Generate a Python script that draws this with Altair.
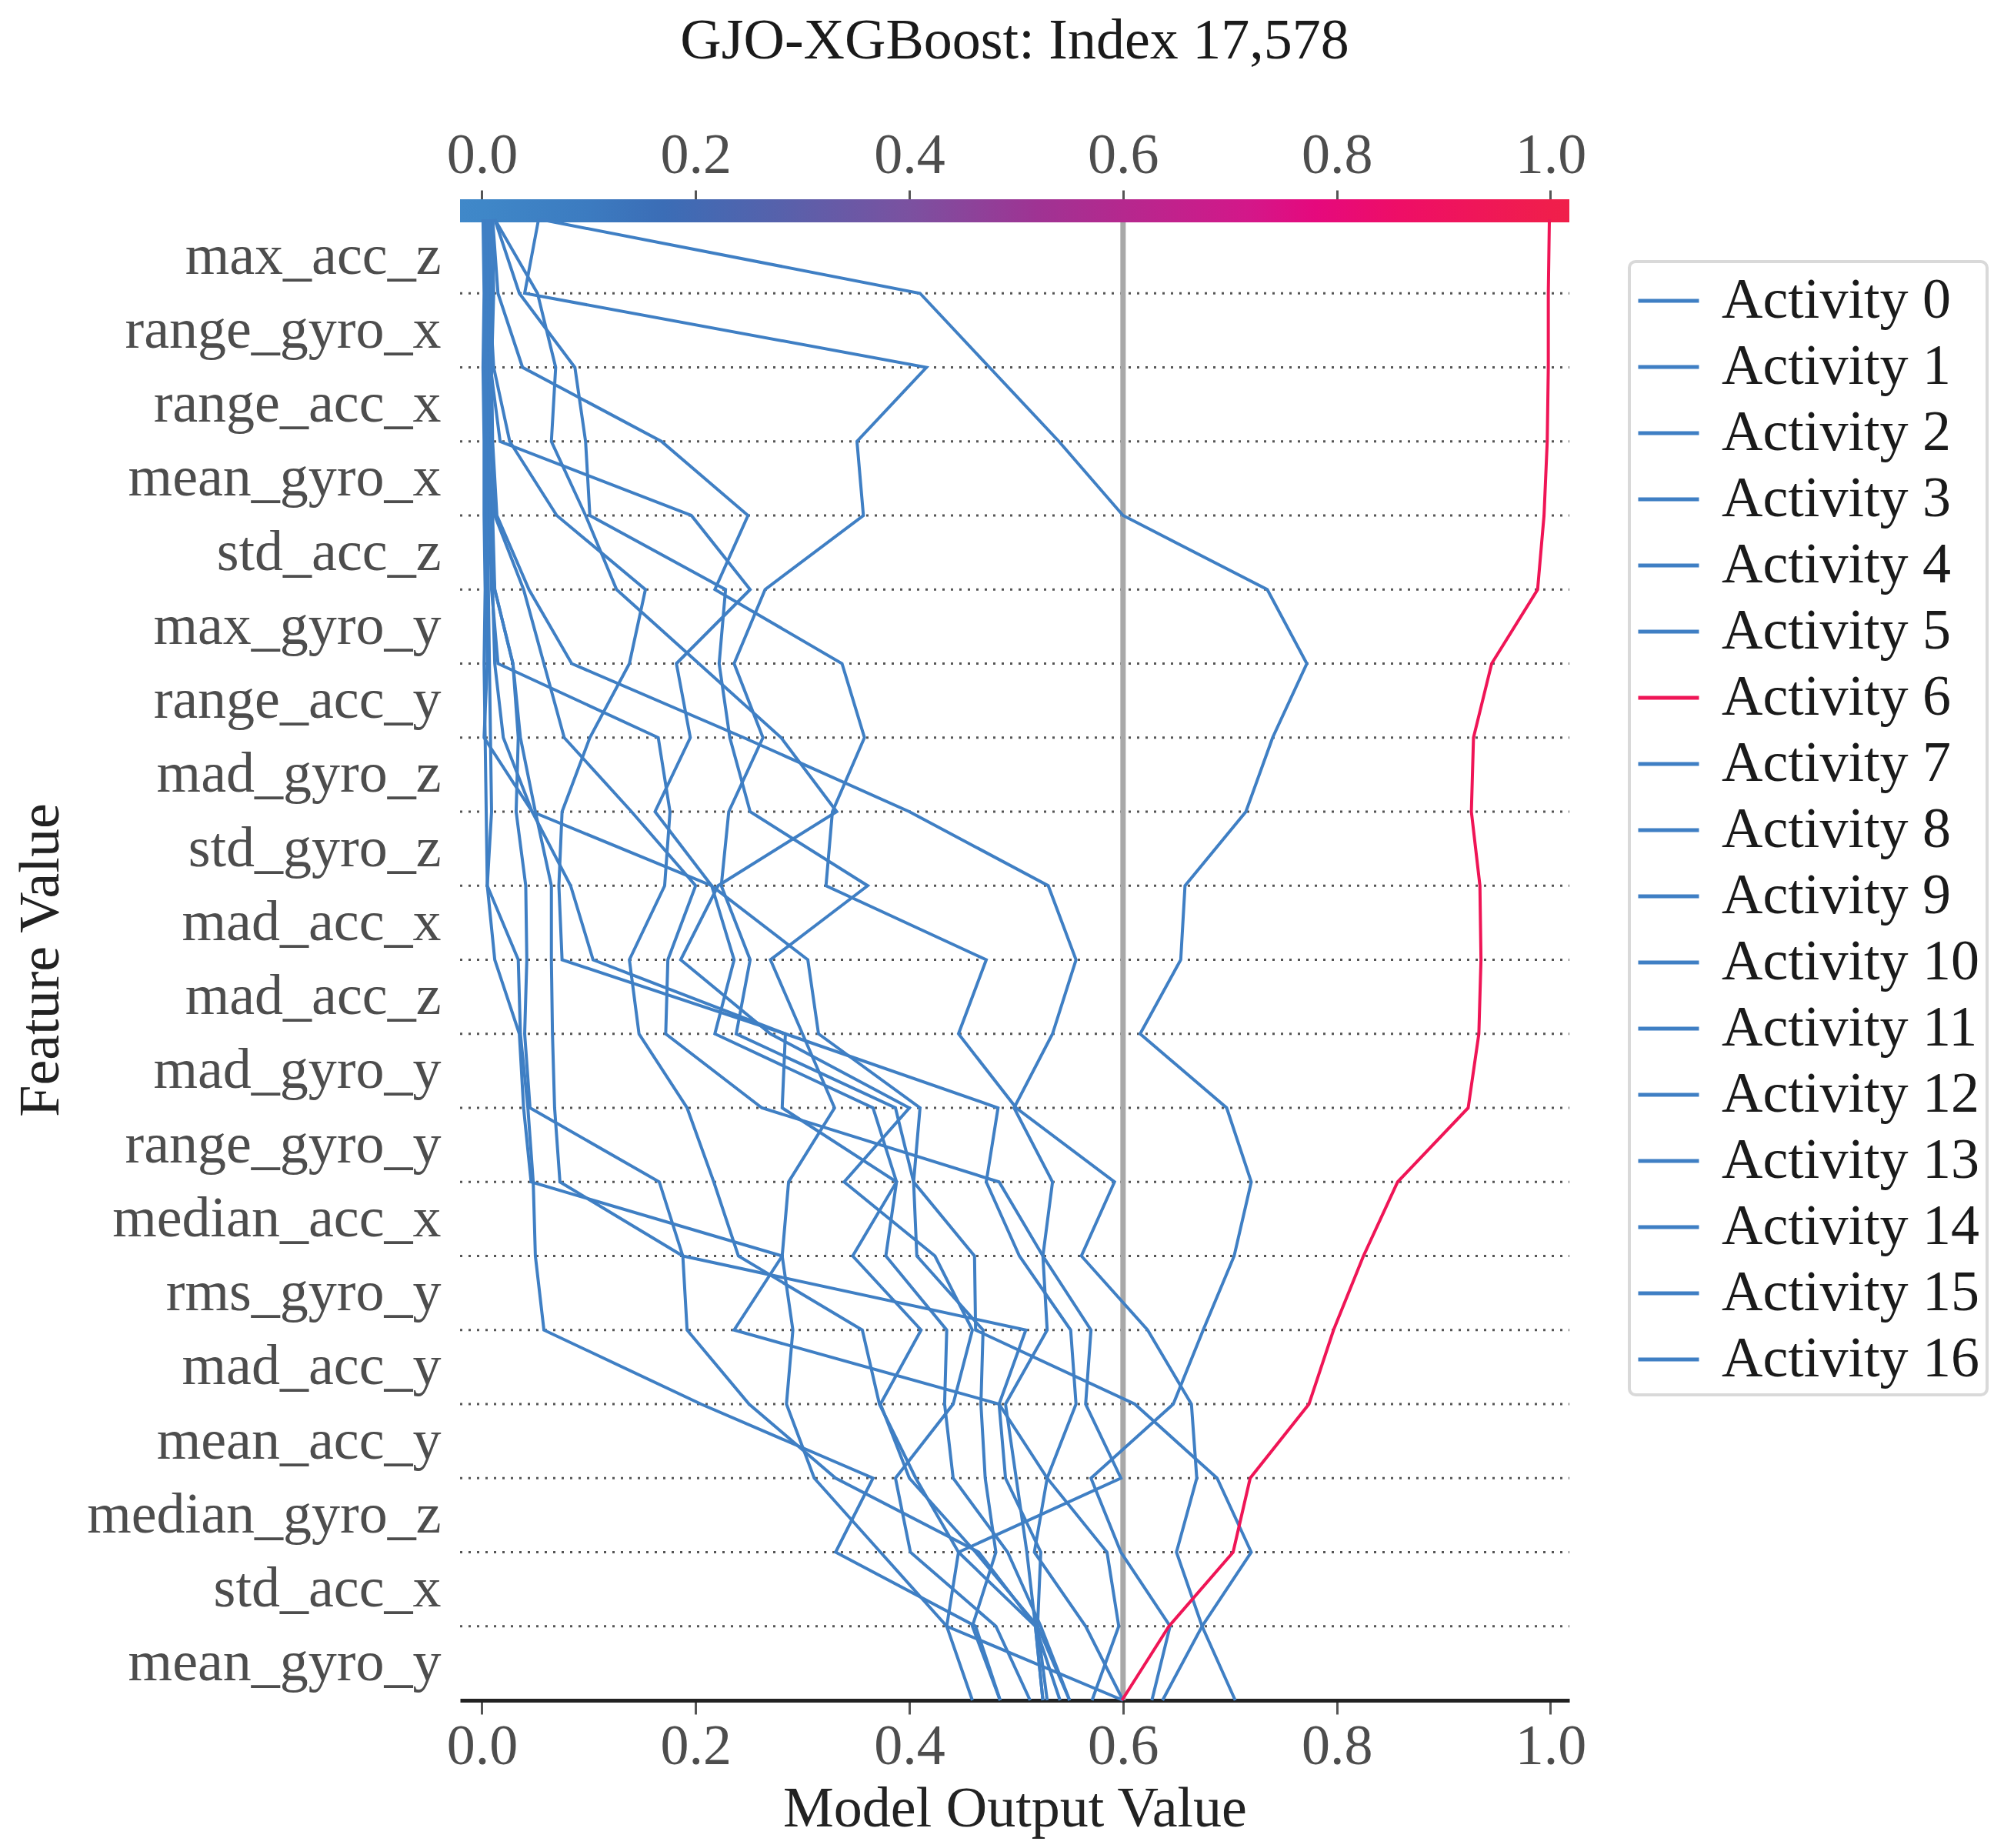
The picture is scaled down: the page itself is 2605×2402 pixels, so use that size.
import altair as alt
import pandas as pd

# ---------------- data ----------------
# features listed from top row to bottom row
features_top_to_bottom = [
    "max_acc_z", "range_gyro_x", "range_acc_x", "mean_gyro_x", "std_acc_z",
    "max_gyro_y", "range_acc_y", "mad_gyro_z", "std_gyro_z", "mad_acc_x",
    "mad_acc_z", "mad_gyro_y", "range_gyro_y", "median_acc_x", "rms_gyro_y",
    "mad_acc_y", "mean_acc_y", "median_gyro_z", "std_acc_x", "mean_gyro_y",
]
features_bottom_up = list(reversed(features_top_to_bottom))

activities = [f"Activity {i}" for i in range(17)]

# cumulative model output, from the bottom boundary (base) up to the top (final output)
act_0 = [0.627, 0.644, 0.598, 0.570, 0.647, 0.675, 0.704, 0.720, 0.697, 0.616, 0.654,
         0.658, 0.715, 0.740, 0.772, 0.735, 0.600, 0.540, 0.475, 0.410, 0.054]
act_1 = [0.637, 0.674, 0.720, 0.688, 0.611, 0.462, 0.461, 0.404, 0.387, 0.238, 0.251,
         0.224, 0.231, 0.263, 0.236, 0.265, 0.357, 0.351, 0.416, 0.040, 0.053]
act_2 = [0.529, 0.520, 0.523, 0.490, 0.484, 0.236, 0.281, 0.287, 0.330, 0.300, 0.270,
         0.361, 0.251, 0.232, 0.222, 0.228, 0.101, 0.097, 0.087, 0.035, 0.012]
act_3 = [0.513, 0.481, 0.401, 0.387, 0.441, 0.459, 0.424, 0.339, 0.400, 0.270, 0.186,
         0.221, 0.332, 0.280, 0.203, 0.126, 0.097, 0.065, 0.069, 0.052, 0.012]
act_4 = [0.705, 0.674, 0.650, 0.669, 0.664, 0.623, 0.561, 0.592, 0.500, 0.446, 0.472,
         0.322, 0.328, 0.358, 0.337, 0.218, 0.249, 0.168, 0.038, 0.015, 0.010]
act_5 = [0.485, 0.459, 0.481, 0.471, 0.467, 0.469, 0.407, 0.404, 0.410, 0.315, 0.305,
         0.215, 0.162, 0.195, 0.182, 0.251, 0.196, 0.017, 0.008, 0.006, 0.004]
act_6 = [0.599, 0.643, 0.703, 0.719, 0.774, 0.797, 0.825, 0.857, 0.923, 0.933, 0.935,
         0.934, 0.926, 0.928, 0.945, 0.988, 0.994, 0.997, 0.998, 0.998, 0.999]
act_7 = [0.571, 0.596, 0.585, 0.529, 0.556, 0.551, 0.503, 0.472, 0.483, 0.284, 0.075,
         0.072, 0.075, 0.101, 0.138, 0.153, 0.070, 0.026, 0.011, 0.007, 0.006]
act_8 = [0.525, 0.518, 0.510, 0.500, 0.490, 0.529, 0.525, 0.484, 0.262, 0.172, 0.174,
         0.200, 0.140, 0.077, 0.058, 0.039, 0.012, 0.008, 0.006, 0.008, 0.006]
act_9 = [0.600, 0.435, 0.446, 0.598, 0.565, 0.570, 0.525, 0.534, 0.498, 0.534, 0.556,
         0.530, 0.400, 0.245, 0.084, 0.044, 0.014, 0.010, 0.009, 0.011, 0.010]
act_10 = [0.600, 0.565, 0.517, 0.529, 0.484, 0.509, 0.188, 0.166, 0.045, 0.040, 0.042,
          0.041, 0.032, 0.034, 0.029, 0.012, 0.006, 0.005, 0.003, 0.004, 0.003]
act_11 = [0.541, 0.518, 0.446, 0.406, 0.372, 0.356, 0.240, 0.217, 0.192, 0.147, 0.138,
          0.171, 0.176, 0.165, 0.015, 0.009, 0.007, 0.006, 0.005, 0.006, 0.008]
act_12 = [0.550, 0.520, 0.462, 0.400, 0.373, 0.411, 0.347, 0.388, 0.281, 0.284, 0.104,
          0.083, 0.047, 0.002, 0.005, 0.004, 0.003, 0.003, 0.002, 0.003, 0.002]
act_13 = [0.459, 0.435, 0.373, 0.311, 0.285, 0.291, 0.281, 0.046, 0.039, 0.035, 0.012,
          0.005, 0.004, 0.003, 0.002, 0.003, 0.002, 0.002, 0.001, 0.002, 0.001]
act_14 = [0.485, 0.462, 0.331, 0.366, 0.205, 0.058, 0.050, 0.048, 0.043, 0.036, 0.034,
          0.005, 0.009, 0.008, 0.007, 0.006, 0.005, 0.004, 0.004, 0.005, 0.004]
act_15 = [0.550, 0.523, 0.492, 0.441, 0.433, 0.435, 0.378, 0.388, 0.366, 0.218, 0.236,
          0.215, 0.047, 0.020, 0.012, 0.010, 0.008, 0.006, 0.007, 0.006, 0.005]
act_16 = [0.525, 0.518, 0.465, 0.331, 0.250, 0.192, 0.188, 0.073, 0.068, 0.066, 0.065,
          0.065, 0.050, 0.036, 0.029, 0.012, 0.010, 0.009, 0.008, 0.009, 0.007]

series = [act_0, act_1, act_2, act_3, act_4, act_5, act_6, act_7, act_8, act_9,
          act_10, act_11, act_12, act_13, act_14, act_15, act_16]

base_value = [0.6]
x_ticks = [0.0, 0.2, 0.4, 0.6, 0.8, 1.0]
x_domain = [-0.0205, 1.0177]

# colour bar stops (value -> colour)
cbar_values = [-0.0205, 0.0, 0.1, 0.17, 0.28, 0.4, 0.52, 0.6, 0.72, 0.78, 0.86, 1.0, 1.0177]
cbar_colors = ["#4088c9", "#3f87c8", "#3c7bc0", "#3b6db6", "#5761ab", "#7b51a0", "#9f3393",
               "#b5288e", "#d41789", "#e5097d", "#ee0e66", "#f01e4c", "#f01f4a"]

# ---------------- frames ----------------
rows = []
for name, vals in zip(activities, series):
    for k, v in enumerate(vals):
        rows.append({"activity": name, "step": k, "value": v})
df = pd.DataFrame(rows)
df_blue = df[df["activity"] != "Activity 6"]
df_red = df[df["activity"] == "Activity 6"]

df_grid = pd.DataFrame({"step": list(range(1, len(features_bottom_up)))})
df_base = pd.DataFrame({"value": base_value})
df_cbar = pd.DataFrame({"x0": [x_domain[0]], "x1": [x_domain[1]]})

W, H = 1442, 1925
FONT = "Liberation Serif"
FS = 74
BLUE = "#3f7fc4"
RED = "#ef1556"

colors = [RED if a == "Activity 6" else BLUE for a in activities]
color_scale = alt.Scale(domain=activities, range=colors)

xscale = alt.Scale(domain=x_domain, nice=False, zero=False)
yscale = alt.Scale(domain=[0, len(features_bottom_up)], nice=False, zero=False)

label_array = "[" + ",".join("'" + f + "'" for f in features_bottom_up) + "]"

y_axis = alt.Axis(
    values=[k + 0.5 for k in range(len(features_bottom_up))],
    labelExpr=label_array + "[floor(datum.value)]",
    title="Feature Value", ticks=False, domain=False, grid=False,
    labelFontSize=FS, labelFont=FONT, labelColor="#4d4d4d", labelPadding=25,
    labelOverlap=False, labelLimit=0,
    titleFontSize=FS, titleFont=FONT, titleColor="#222222", titleFontWeight="normal",
    titleX=-545, titleY=H / 2, titleAngle=270, titleAlign="center", titleBaseline="middle",
)

bottom_axis = alt.Axis(
    values=x_ticks, format=".1f", orient="bottom", grid=False,
    domain=True, domainColor="#222222", domainWidth=5,
    ticks=True, tickColor="#555555", tickWidth=3, tickSize=18,
    labelFontSize=FS, labelFont=FONT, labelColor="#4d4d4d", labelPadding=6,
    labelFlush=False, labelOverlap=False,
    title="Model Output Value", titleFontSize=FS, titleFont=FONT,
    titleColor="#222222", titleFontWeight="normal", titlePadding=8,
)

top_axis = alt.Axis(
    values=x_ticks, format=".1f", orient="top", grid=False, domain=False,
    ticks=True, tickColor="#555555", tickWidth=3, tickSize=12, offset=26,
    labelFontSize=FS, labelFont=FONT, labelColor="#4d4d4d", labelPadding=7,
    labelFlush=False, labelOverlap=False, title=None,
)

legend = alt.Legend(
    title=None, orient="none", legendX=1520, legendY=55,
    symbolType="stroke", symbolSize=6241, symbolStrokeWidth=5,
    labelFontSize=FS, labelFont=FONT, labelColor="#1a1a1a", labelOffset=27,
    labelLimit=0, rowPadding=7, padding=9, values=activities,
)

grid = alt.Chart(df_grid).mark_rule(
    color="#555555", strokeWidth=3, strokeDash=[3, 8]
).encode(
    y=alt.Y("step:Q", scale=yscale, axis=y_axis),
    x=alt.value(0), x2=alt.value(W),
)

base_rule = alt.Chart(df_base).mark_rule(color="#a8a8a8", strokeWidth=7).encode(
    x=alt.X("value:Q", scale=xscale, axis=bottom_axis),
    y=alt.value(0), y2=alt.value(H),
)

gradient = alt.LinearGradient(
    gradient="linear",
    stops=[alt.GradientStop(color=c, offset=(v - x_domain[0]) / (x_domain[1] - x_domain[0]))
           for v, c in zip(cbar_values, cbar_colors)],
    x1=0, x2=1, y1=0, y2=0,
)
cbar = alt.Chart(df_cbar).mark_rect(color=gradient).encode(
    x=alt.X("x0:Q", scale=xscale, axis=top_axis),
    x2="x1:Q",
    y=alt.value(-26), y2=alt.value(4),
)

blue_lines = alt.Chart(df_blue).mark_line(strokeWidth=4).encode(
    x=alt.X("value:Q", scale=xscale, axis=None),
    y=alt.Y("step:Q", scale=yscale, axis=y_axis),
    color=alt.Color("activity:N", scale=color_scale, legend=legend),
    detail="activity:N",
    order="step:Q",
)
red_line = alt.Chart(df_red).mark_line(strokeWidth=4).encode(
    x=alt.X("value:Q", scale=xscale, axis=None),
    y=alt.Y("step:Q", scale=yscale, axis=y_axis),
    color=alt.Color("activity:N", scale=color_scale, legend=legend),
    detail="activity:N",
    order="step:Q",
)

chart = alt.layer(grid, base_rule, cbar, blue_lines, red_line).resolve_scale(
    x="shared", y="shared", color="shared"
).resolve_axis(
    x="independent"
).properties(
    width=W, height=H,
    padding={"left": 8, "top": 9, "right": 0, "bottom": 5},
    title=alt.TitleParams(
        "GJO-XGBoost: Index 17,578", fontSize=FS, font=FONT, fontWeight="normal",
        color="#1a1a1a", anchor="middle", frame="group", offset=73,
    ),
).configure(
    font=FONT,
).configure_view(
    stroke=None,
).configure_legend(
    strokeColor="#d9d9d9", strokeWidth=4, cornerRadius=8, fillColor="white",
)

chart.save("out.html", embed_options={"renderer": "svg", "actions": False})
